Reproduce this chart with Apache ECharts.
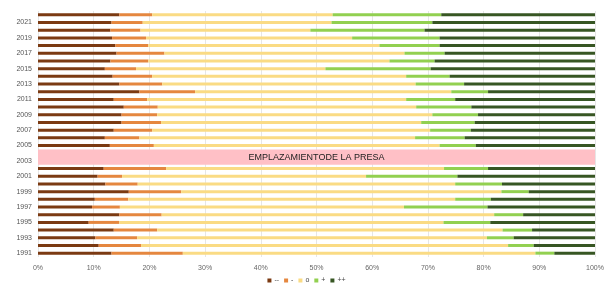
<!DOCTYPE html>
<html>
<head>
<meta charset="utf-8">
<script src="https://cdn.jsdelivr.net/npm/echarts@6/dist/echarts.min.js"></script>
<style>
  html, body { margin: 0; padding: 0; background: #fff; }
  #chart { width: 613px; height: 292px; }
</style>
</head>
<body>
<div id="chart"></div>
<script>
// Years from bottom (1991) to top (2022); 2003 and 2004 are covered by the band
const years = [];
for (let y = 1991; y <= 2022; y++) years.push(String(y));

const seriesNames = ['--', '-', 'o', '+', '++'];
const seriesColors = ['#7B3A12', '#E5873F', '#FADB84', '#92D050', '#375623'];

// Share of each class per year (%), 1991 -> 2022
const veryNeg = [13.2, 10.9, 10.3, 13.6, 9.1, 14.6, 9.7, 10.2, 16.3, 12.1, 10.7, 11.8, null, null,
  12.9, 12.0, 13.6, 15.0, 15.0, 15.4, 13.6, 18.2, 14.6, 13.4, 12.0, 13.0, 14.1, 13.9, 13.3, 13.0, 13.2, 14.6];
const neg = [12.8, 7.6, 7.5, 7.8, 5.5, 7.6, 5.0, 6.0, 9.4, 5.8, 4.4, 11.2, null, null,
  7.9, 6.2, 6.9, 7.1, 6.4, 6.1, 6.0, 10.0, 7.7, 7.1, 5.6, 6.8, 8.6, 5.9, 6.1, 5.4, 5.6, 5.9];
const neutral = [63.3, 65.9, 62.8, 62.0, 58.2, 59.7, 51.0, 58.7, 57.5, 57.0, 43.8, 49.9, null, null,
  51.3, 49.5, 49.9, 46.7, 49.4, 46.4, 46.5, 46.0, 45.5, 45.6, 34.0, 43.3, 43.1, 41.5, 37.0, 30.5, 33.9, 32.4];
const pos = [3.4, 4.6, 4.8, 5.3, 8.4, 5.2, 15.0, 6.4, 4.9, 8.4, 16.4, 7.9, null, null,
  6.5, 8.9, 7.3, 9.6, 8.2, 9.9, 8.8, 6.6, 8.7, 7.8, 18.9, 8.1, 7.2, 10.8, 15.7, 20.5, 18.1, 19.5];
const veryPos = [7.3, 11.0, 14.6, 11.3, 18.8, 12.9, 19.3, 18.7, 11.9, 16.7, 24.7, 19.2, null, null,
  21.4, 23.4, 22.3, 21.6, 21.0, 22.2, 25.1, 19.2, 23.5, 26.1, 29.5, 28.8, 27.0, 27.9, 27.9, 30.6, 29.2, 27.6];

const bandYears = ['2003', '2004'];
const bandText = 'EMPLAZAMIENTODE LA PRESA';

const allValues = [veryNeg, neg, neutral, pos, veryPos];

var chart = echarts.init(document.getElementById('chart'));

const barSeries = seriesNames.map((name, i) => ({
  name: name,
  type: 'bar',
  stack: 'total',
  barWidth: 3,
  itemStyle: { color: seriesColors[i] },
  data: allValues[i]
}));

// Pink band marking the dam site years
const bandSeries = {
  type: 'custom',
  name: 'band',
  silent: true,
  z: 5,
  data: [[0, years.indexOf(bandYears[0])]],
  renderItem: function(params, api) {
    const lo = api.coord([0, years.indexOf(bandYears[0])]);
    const hi = api.coord([100, years.indexOf(bandYears[1])]);
    const h = api.size([0, 1])[1];
    const top = hi[1] - h / 2;
    const bottom = lo[1] + h / 2;
    return {
      type: 'group',
      children: [
        {
          type: 'rect',
          shape: { x: lo[0], y: top, width: hi[0] - lo[0], height: bottom - top },
          style: { fill: '#FFC0C6' }
        },
        {
          type: 'text',
          style: {
            text: bandText,
            x: (lo[0] + hi[0]) / 2,
            y: (top + bottom) / 2 + 0.5,
            align: 'center',
            verticalAlign: 'middle',
            fill: '#222',
            font: '9px "Liberation Sans", sans-serif'
          }
        }
      ]
    };
  }
};

var option = {
  animation: false,
  textStyle: { fontFamily: 'Liberation Sans, sans-serif' },
  grid: { left: 38, right: 18, top: 11, bottom: 35 },
  legend: {
    bottom: 3,
    left: 'center',
    itemWidth: 4,
    itemHeight: 4,
    itemGap: 5,
    icon: 'rect',
    data: seriesNames,
    textStyle: { fontSize: 7, color: '#444', padding: [0, 0, 0, -2] }
  },
  xAxis: {
    type: 'value',
    min: 0,
    max: 100,
    interval: 10,
    axisLabel: { formatter: '{value}%', fontSize: 7, color: '#666', margin: 8 },
    axisLine: { show: false },
    axisTick: { show: false },
    splitLine: { lineStyle: { color: '#E6E6E6', width: 1 } }
  },
  yAxis: {
    type: 'category',
    data: years,
    axisLabel: { interval: 1, fontSize: 7, color: '#555', margin: 6 },
    axisLine: { show: false },
    axisTick: { show: false }
  },
  series: barSeries.concat([bandSeries])
};

option && chart.setOption(option);
</script>
</body>
</html>
